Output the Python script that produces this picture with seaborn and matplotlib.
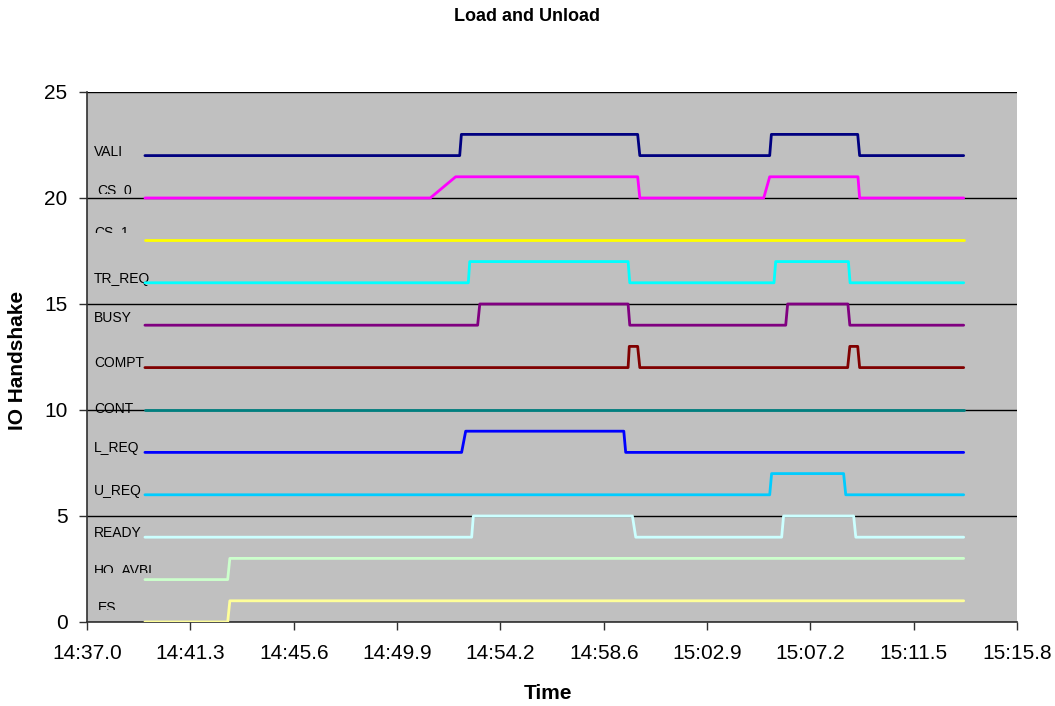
import matplotlib
matplotlib.use('Agg')
from matplotlib import pyplot as plt
from matplotlib.ticker import FixedLocator, FixedFormatter
from matplotlib.transforms import Bbox, TransformedBbox
import seaborn as sns
import pandas as pd

# 001 : Data (seconds after 14:37.0)
신호_이름 = ['VALI', 'CS_0', 'CS_1', 'TR_REQ', 'BUSY', 'COMPT', 'CONT',
          'L_REQ', 'U_REQ', 'READY', 'HO_AVBL', 'ES']

VALI_t = [2.42, 15.58, 15.65, 23.02, 23.11, 28.54, 28.61, 32.22, 32.30, 36.65]
VALI_y = [22, 22, 23, 23, 22, 22, 23, 23, 22, 22]
CS_0_t = [2.42, 14.35, 15.41, 23.02, 23.11, 28.29, 28.54, 32.23, 32.30, 36.65]
CS_0_y = [20, 20, 21, 21, 20, 20, 21, 21, 20, 20]
CS_1_t = [2.42, 36.65]
CS_1_y = [18, 18]
TR_REQ_t = [2.42, 15.94, 16.00, 22.62, 22.69, 28.72, 28.79, 31.83, 31.90, 36.65]
TR_REQ_y = [16, 16, 17, 17, 16, 16, 17, 17, 16, 16]
BUSY_t = [2.42, 16.33, 16.42, 22.62, 22.69, 29.21, 29.29, 31.81, 31.89, 36.65]
BUSY_y = [14, 14, 15, 15, 14, 14, 15, 15, 14, 14]
COMPT_t = [2.42, 22.62, 22.67, 23.02, 23.11, 31.80, 31.89, 32.22, 32.30, 36.65]
COMPT_y = [12, 12, 13, 13, 12, 12, 13, 13, 12, 12]
CONT_t = [2.42, 36.65]
CONT_y = [10, 10]
L_REQ_t = [2.42, 15.66, 15.83, 22.44, 22.52, 36.65]
L_REQ_y = [8, 8, 9, 9, 8, 8]
U_REQ_t = [2.42, 28.54, 28.62, 31.63, 31.72, 36.65]
U_REQ_y = [6, 6, 7, 7, 6, 6]
READY_t = [2.42, 16.08, 16.15, 22.80, 22.94, 29.04, 29.12, 32.05, 32.14, 36.65]
READY_y = [4, 4, 5, 5, 4, 4, 5, 5, 4, 4]
HO_AVBL_t = [2.42, 5.88, 5.97, 36.65]
HO_AVBL_y = [2, 2, 3, 3]
ES_t = [2.42, 5.88, 5.97, 36.65]
ES_y = [0, 0, 1, 1]

시간_눈금 = [0, 4.32, 8.64, 12.96, 17.28, 21.6, 25.92, 30.24, 34.56, 38.88]
시간_라벨 = ['14:37.0', '14:41.3', '14:45.6', '14:49.9', '14:54.2', '14:58.6',
          '15:02.9', '15:07.2', '15:11.5', '15:15.8']

series = {
    'VALI': (VALI_t, VALI_y), 'CS_0': (CS_0_t, CS_0_y), 'CS_1': (CS_1_t, CS_1_y),
    'TR_REQ': (TR_REQ_t, TR_REQ_y), 'BUSY': (BUSY_t, BUSY_y), 'COMPT': (COMPT_t, COMPT_y),
    'CONT': (CONT_t, CONT_y), 'L_REQ': (L_REQ_t, L_REQ_y), 'U_REQ': (U_REQ_t, U_REQ_y),
    'READY': (READY_t, READY_y), 'HO_AVBL': (HO_AVBL_t, HO_AVBL_y), 'ES': (ES_t, ES_y),
}
df = pd.concat([pd.DataFrame({'Time': t, 'IO': y, 'signal': name})
                for name, (t, y) in series.items()], ignore_index=True)

colors = {'VALI': '#000080', 'CS_0': '#FF00FF', 'CS_1': '#FFFF00', 'TR_REQ': '#00FFFF',
          'BUSY': '#800080', 'COMPT': '#800000', 'CONT': '#008080', 'L_REQ': '#0000FF',
          'U_REQ': '#00CCFF', 'READY': '#CCFFFF', 'HO_AVBL': '#CCFFCC', 'ES': '#FFFF99'}

# 002 : Plot
sns.set_style('white')
plt.rcParams['font.family'] = ['Liberation Sans', 'DejaVu Sans']
plt.rcParams['text.color'] = 'black'
plt.rcParams['xtick.color'] = 'black'
plt.rcParams['ytick.color'] = 'black'

fig = plt.figure(figsize=(10.55, 7.06), dpi=100)
ax = fig.add_axes([0.0825, 0.119, 0.8815, 0.7507])
ax.set_facecolor('#C0C0C0')

sns.lineplot(data=df, x='Time', y='IO', hue='signal', units='signal', estimator=None,
             sort=False, palette=colors, linewidth=2, legend=False, ax=ax, zorder=3)

ax.set_xlim(0, 38.88)
ax.set_ylim(0, 25)
ax.set_yticks([0, 5, 10, 15, 20, 25])
ax.xaxis.set_major_locator(FixedLocator(시간_눈금))
ax.xaxis.set_major_formatter(FixedFormatter(시간_라벨))
ax.grid(axis='y', color='black', linewidth=1, zorder=1)
ax.grid(axis='x', visible=False)
ax.set_axisbelow(True)

for side in ['top', 'right']:
    ax.spines[side].set_visible(False)
for side in ['left', 'bottom']:
    ax.spines[side].set_color('#303030')
    ax.spines[side].set_linewidth(1.2)

ax.tick_params(axis='both', direction='out', length=6, width=1, color='#303030',
               labelsize=15, labelcolor='black', bottom=True, left=True)
ax.tick_params(axis='x', pad=10)
ax.tick_params(axis='y', pad=8)
ax.set_xlabel('')
ax.set_ylabel('')

# 신호 라벨 (x, baseline y, 아래쪽 잘림)
label_pos = {
    'VALI': (0.29, 21.98, None), 'CS_0': (0.43, 20.2, 20.2), 'CS_1': (0.29, 18.22, 18.34),
    'TR_REQ': (0.29, 16.0, None), 'BUSY': (0.29, 14.17, None), 'COMPT': (0.29, 12.05, None),
    'CONT': (0.29, 9.87, None), 'L_REQ': (0.29, 8.03, None), 'U_REQ': (0.29, 5.98, None),
    'READY': (0.29, 3.99, None), 'HO_AVBL': (0.29, 2.27, 2.3), 'ES': (0.45, 0.46, 0.57),
}
for name in 신호_이름:
    x, y, cut = label_pos[name]
    txt = ax.text(x, y, name, fontsize=10, va='baseline', ha='left', zorder=2)
    if cut is not None:
        txt.set_clip_box(TransformedBbox(Bbox([[0, cut], [40, 30]]), ax.transData))
        txt.set_clip_on(True)

fig.text(0.5, 0.977, 'Load and Unload', ha='center', va='center', fontsize=13, fontweight='bold')
fig.text(0.519, 0.018, 'Time', ha='center', va='center', fontsize=15, fontweight='bold')
fig.text(0.017, 0.49, 'IO Handshake', ha='center', va='center', rotation=90,
         fontsize=15, fontweight='bold')

fig.savefig('out.png', dpi=100)
